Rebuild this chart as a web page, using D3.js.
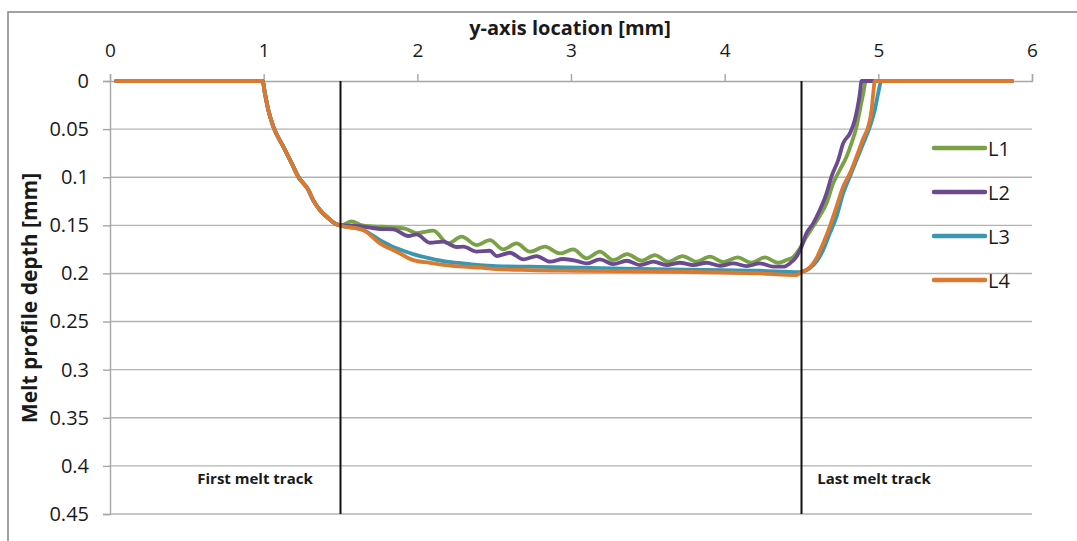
<!DOCTYPE html>
<html>
<head>
<meta charset="utf-8">
<script src="https://cdn.jsdelivr.net/npm/d3@7"></script>
<style>
  html, body { margin: 0; padding: 0; background: #fff; }
  svg { display: block; }
  text { font-family: "Open Sans", "Liberation Sans", sans-serif; fill: #1a1a1a; }
</style>
</head>
<body>
<svg id="chart" width="1077" height="541"></svg>
<script>
// ---- data -------------------------------------------------------------
const xTicks = [0, 1, 2, 3, 4, 5, 6];
const depthTicks = [0, 0.05, 0.1, 0.15, 0.2, 0.25, 0.3, 0.35, 0.4, 0.45];
const depthTickLabels = ["0", "0.05", "0.1", "0.15", "0.2", "0.25", "0.3", "0.35", "0.4", "0.45"];
const trackLines = [1.5, 4.5];
const trackLabels = ["First melt track", "Last melt track"];
const seriesNames = ["L1", "L2", "L3", "L4"];
const seriesColors = ["#79a146", "#6b4a8f", "#3a97b0", "#db792f"];

// common entry edge of the melt profile (all layers coincide here)
const edgeX     = [0.04, 0.993, 1.008, 1.030, 1.063, 1.128, 1.182, 1.225, 1.290, 1.323, 1.366, 1.420, 1.475];
const edgeDepth = [0,    0,     0.0128, 0.030, 0.0475, 0.0683, 0.0853, 0.0995, 0.113, 0.124, 0.134, 0.1425, 0.149];

const l1X = [1.503, 1.572, 1.640, 1.713, 1.822, 1.919, 1.995, 2.104, 2.201, 2.288, 2.386, 2.472, 2.559, 2.646, 2.733, 2.830, 2.928, 3.014, 3.101, 3.188, 3.275, 3.366, 3.459, 3.546, 3.632, 3.726, 3.817, 3.904, 3.991, 4.084, 4.174, 4.261, 4.348, 4.402, 4.446, 4.489, 4.532, 4.576, 4.619, 4.663, 4.706, 4.749, 4.793, 4.825, 4.858, 4.880, 4.902, 4.919, 5.87];
const l1Depth = [0.150, 0.146, 0.150, 0.151, 0.152, 0.1535, 0.158, 0.1556, 0.1688, 0.1618, 0.1705, 0.1653, 0.1750, 0.1688, 0.1774, 0.1722, 0.1792, 0.1750, 0.1843, 0.1774, 0.1861, 0.1799, 0.1868, 0.1809, 0.1878, 0.1819, 0.1878, 0.1826, 0.1882, 0.1833, 0.1889, 0.1833, 0.1889, 0.1861, 0.183, 0.174, 0.162, 0.151, 0.140, 0.127, 0.1064, 0.0925, 0.0787, 0.0648, 0.0475, 0.0302, 0.0128, 0, 0];

const l2X = [1.503, 1.648, 1.757, 1.843, 1.941, 1.995, 2.082, 2.169, 2.255, 2.299, 2.386, 2.472, 2.516, 2.603, 2.689, 2.776, 2.863, 2.949, 3.036, 3.101, 3.188, 3.275, 3.362, 3.449, 3.536, 3.623, 3.709, 3.796, 3.883, 3.970, 4.056, 4.143, 4.230, 4.317, 4.381, 4.424, 4.467, 4.500, 4.532, 4.576, 4.619, 4.663, 4.695, 4.739, 4.771, 4.815, 4.847, 4.880, 4.891, 5.87];
const l2Depth = [0.1497, 0.1514, 0.1538, 0.1542, 0.1611, 0.1595, 0.1681, 0.1670, 0.1725, 0.1722, 0.1774, 0.1764, 0.1819, 0.1785, 0.1854, 0.1819, 0.1878, 0.1850, 0.1870, 0.1896, 0.1854, 0.1903, 0.1868, 0.1913, 0.1878, 0.1913, 0.1889, 0.1913, 0.1889, 0.1920, 0.1896, 0.1923, 0.1896, 0.1930, 0.1930, 0.1896, 0.1826, 0.1722, 0.1583, 0.1480, 0.1341, 0.1167, 0.0994, 0.0821, 0.0648, 0.0544, 0.0405, 0.0128, 0, 0];

const l3X = [1.503, 1.648, 1.757, 1.865, 1.973, 2.082, 2.190, 2.299, 2.407, 2.516, 2.733, 3.058, 3.643, 4.229, 4.489, 4.554, 4.597, 4.641, 4.684, 4.728, 4.771, 4.815, 4.858, 4.902, 4.945, 4.977, 4.999, 5.020, 5.87];
const l3Depth = [0.1504, 0.1549, 0.1653, 0.1739, 0.1799, 0.1843, 0.1878, 0.1896, 0.1913, 0.1923, 0.1930, 0.1940, 0.1958, 0.1972, 0.1986, 0.1947, 0.1878, 0.1757, 0.1584, 0.1410, 0.1167, 0.0994, 0.0821, 0.0648, 0.0475, 0.0302, 0.0128, 0, 0];

const l4X = [1.503, 1.605, 1.648, 1.757, 1.865, 1.973, 2.082, 2.190, 2.299, 2.407, 2.516, 2.733, 3.058, 3.643, 4.229, 4.467, 4.500, 4.554, 4.597, 4.641, 4.684, 4.728, 4.771, 4.815, 4.858, 4.902, 4.934, 4.956, 4.967, 4.977, 5.87];
const l4Depth = [0.1507, 0.1531, 0.1549, 0.1688, 0.1774, 0.1861, 0.1889, 0.1913, 0.1930, 0.1940, 0.1954, 0.1965, 0.1972, 0.1982, 0.2000, 0.2017, 0.1986, 0.1937, 0.1843, 0.1688, 0.1514, 0.1306, 0.1098, 0.0960, 0.0787, 0.0596, 0.0475, 0.0302, 0.0128, 0, 0];

// ---- layout -----------------------------------------------------------
const svg = d3.select("#chart");
const W = 1077, H = 541;
const margin = { left: 110, top: 81, right: 45, bottom: 27 };
const innerW = W - margin.left - margin.right;   // 922
const innerH = H - margin.top - margin.bottom;   // 433

const x = d3.scaleLinear().domain([0, 6]).range([margin.left, margin.left + innerW]);
const y = d3.scaleLinear().domain([0, 0.45]).range([margin.top, margin.top + innerH]);

// chart frame
svg.append("rect")
  .attr("x", 8).attr("y", 12).attr("width", W + 20).attr("height", H + 20)
  .attr("fill", "#fff").attr("stroke", "#8a8a8a").attr("stroke-width", 1.6);

// horizontal gridlines
svg.append("g").selectAll("line")
  .data(depthTicks.slice(1))
  .join("line")
  .attr("x1", x(0)).attr("x2", x(6))
  .attr("y1", d => y(d)).attr("y2", d => y(d))
  .attr("stroke", "#b3b3b3").attr("stroke-width", 1.4);

// top x axis
const xAxis = d3.axisTop(x).tickValues(xTicks).tickFormat(d3.format("d")).tickSize(7).tickPadding(17);
const gx = svg.append("g").attr("transform", `translate(0,${y(0)})`).call(xAxis);
gx.select(".domain").attr("stroke", "#a6a6a6").attr("stroke-width", 1.4);
gx.selectAll(".tick line").attr("stroke", "#a6a6a6").attr("stroke-width", 1.4);
gx.selectAll(".tick text")
  .style("font-family", '"Open Sans", sans-serif').style("font-size", "19px").attr("fill", "#1a1a1a");

// left y axis
const yAxis = d3.axisLeft(y).tickValues(depthTicks)
  .tickFormat((d, i) => depthTickLabels[i]).tickSize(7).tickPadding(14);
const gy = svg.append("g").attr("transform", `translate(${x(0)},0)`).call(yAxis);
gy.select(".domain").attr("stroke", "#a6a6a6").attr("stroke-width", 1.4);
gy.selectAll(".tick line").attr("stroke", "#a6a6a6").attr("stroke-width", 1.4);
gy.selectAll(".tick text")
  .style("font-family", '"Open Sans", sans-serif').style("font-size", "20px").attr("fill", "#1a1a1a");

// axis titles
svg.append("text")
  .attr("x", 570).attr("y", 35)
  .attr("text-anchor", "middle")
  .style("font-size", "20px").style("font-weight", "bold")
  .text("y-axis location [mm]");

svg.append("text")
  .attr("transform", "translate(29,298) rotate(-90)")
  .attr("text-anchor", "middle").attr("dominant-baseline", "central")
  .style("font-size", "21px").style("font-weight", "bold")
  .text("Melt profile depth [mm]");

// melt profiles
const series = [
  { name: seriesNames[0], color: seriesColors[0], xs: edgeX.concat(l1X), ds: edgeDepth.concat(l1Depth) },
  { name: seriesNames[1], color: seriesColors[1], xs: edgeX.concat(l2X), ds: edgeDepth.concat(l2Depth) },
  { name: seriesNames[2], color: seriesColors[2], xs: edgeX.concat(l3X), ds: edgeDepth.concat(l3Depth) },
  { name: seriesNames[3], color: seriesColors[3], xs: edgeX.concat(l4X), ds: edgeDepth.concat(l4Depth) }
];

const line = d3.line()
  .x(d => x(d[0])).y(d => y(d[1]))
  .curve(d3.curveMonotoneX);

svg.append("g").selectAll("path")
  .data(series)
  .join("path")
  .attr("d", s => line(d3.zip(s.xs, s.ds)))
  .attr("fill", "none")
  .attr("stroke", s => s.color)
  .attr("stroke-width", 3.8)
  .attr("stroke-linejoin", "round")
  .attr("stroke-linecap", "round");

// first / last melt track markers
svg.append("g").selectAll("line")
  .data(trackLines)
  .join("line")
  .attr("x1", d => x(d)).attr("x2", d => x(d))
  .attr("y1", y(0)).attr("y2", y(0.45))
  .attr("stroke", "#111").attr("stroke-width", 2);

svg.append("text")
  .attr("x", 255).attr("y", 484).attr("text-anchor", "middle")
  .style("font-size", "15px").style("font-weight", "bold")
  .text(trackLabels[0]);
svg.append("text")
  .attr("x", 874).attr("y", 484).attr("text-anchor", "middle")
  .style("font-size", "15px").style("font-weight", "bold")
  .text(trackLabels[1]);

// legend
const legend = svg.append("g").selectAll("g")
  .data(series)
  .join("g")
  .attr("transform", (s, i) => `translate(934,${148 + i * 44})`);
legend.append("line")
  .attr("x1", 0).attr("x2", 51)
  .attr("stroke", s => s.color).attr("stroke-width", 4.5).attr("stroke-linecap", "round");
legend.append("text")
  .attr("x", 54).attr("dominant-baseline", "central")
  .style("font-size", "20px")
  .text(s => s.name);
</script>
</body>
</html>
